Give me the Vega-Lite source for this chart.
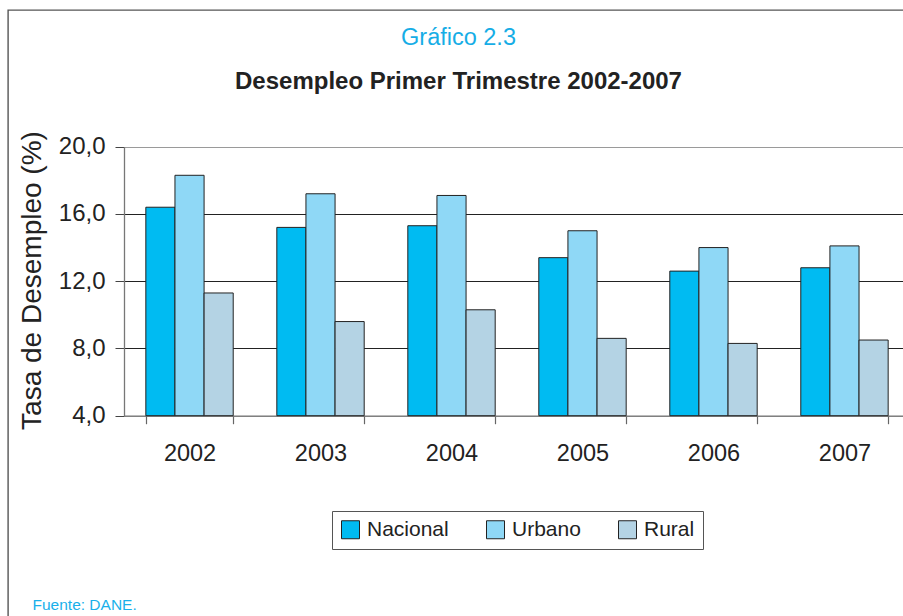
{
  "$schema": "https://vega.github.io/schema/vega-lite/v6.json",
  "autosize": {"type": "none"},
  "padding": {"left": 8, "top": 10, "right": 0, "bottom": 0},
  "width": 895,
  "height": 606,
  "background": "white",
  "config": {
    "view": {"stroke": "#555555", "strokeWidth": 1.4, "strokeDash": [895, 1501, 606, 0], "fill": "white"},
    "font": "Liberation Sans"
  },
  "title": {
    "text": "Gráfico 2.3",
    "subtitle": "Desempleo Primer Trimestre 2002-2007",
    "anchor": "middle",
    "frame": "group",
    "offset": -84,
    "dx": 3,
    "font": "Liberation Sans",
    "fontSize": 23.5,
    "fontWeight": "normal",
    "color": "#16ADE6",
    "subtitleFont": "Liberation Sans",
    "subtitleFontSize": 24,
    "subtitleFontWeight": "bold",
    "subtitleColor": "#222222",
    "subtitlePadding": 21
  },
  "data": {
    "values": [
      {"anio": "2002", "serie": "Nacional", "valor": 16.4},
      {"anio": "2002", "serie": "Urbano", "valor": 18.3},
      {"anio": "2002", "serie": "Rural", "valor": 11.3},
      {"anio": "2003", "serie": "Nacional", "valor": 15.2},
      {"anio": "2003", "serie": "Urbano", "valor": 17.2},
      {"anio": "2003", "serie": "Rural", "valor": 9.6},
      {"anio": "2004", "serie": "Nacional", "valor": 15.3},
      {"anio": "2004", "serie": "Urbano", "valor": 17.1},
      {"anio": "2004", "serie": "Rural", "valor": 10.3},
      {"anio": "2005", "serie": "Nacional", "valor": 13.4},
      {"anio": "2005", "serie": "Urbano", "valor": 15.0},
      {"anio": "2005", "serie": "Rural", "valor": 8.6},
      {"anio": "2006", "serie": "Nacional", "valor": 12.6},
      {"anio": "2006", "serie": "Urbano", "valor": 14.0},
      {"anio": "2006", "serie": "Rural", "valor": 8.3},
      {"anio": "2007", "serie": "Nacional", "valor": 12.8},
      {"anio": "2007", "serie": "Urbano", "valor": 14.1},
      {"anio": "2007", "serie": "Rural", "valor": 8.5}
    ]
  },
  "mark": {"type": "bar", "stroke": "#222222", "strokeWidth": 1},
  "encoding": {
    "x": {
      "field": "anio",
      "type": "nominal",
      "sort": ["2002", "2003", "2004", "2005", "2006", "2007"],
      "scale": {"range": [116, 902], "paddingInner": 0.333, "paddingOuter": 0.1667},
      "axis": {
        "orient": "bottom",
        "offset": -200.3,
        "tickBand": "extent",
        "tickSize": 8,
        "tickColor": "#666666",
        "tickWidth": 1.2,
        "domainColor": "#777777",
        "domainWidth": 1.3,
        "labelAngle": 0,
        "labelFont": "Liberation Sans",
        "labelFontSize": 23.5,
        "labelColor": "#222222",
        "labelPadding": 18,
        "grid": false,
        "title": "Fuente: DANE.",
        "titleFont": "Liberation Sans",
        "titleFontSize": 15.5,
        "titleFontWeight": "normal",
        "titleColor": "#1AB0EA",
        "titleX": 24,
        "titleY": 193.6,
        "titleAlign": "left",
        "titleBaseline": "alphabetic",
        "titleAngle": 0
      }
    },
    "xOffset": {
      "field": "serie",
      "type": "nominal",
      "sort": ["Nacional", "Urbano", "Rural"],
      "scale": {"paddingInner": 0, "paddingOuter": 0}
    },
    "y": {
      "field": "valor",
      "type": "quantitative",
      "scale": {"domain": [4, 20], "range": [405.7, 136.7], "nice": false, "zero": false},
      "axis": {
        "orient": "left",
        "offset": -116,
        "values": [4, 8, 12, 16, 20],
        "labelExpr": "replace(format(datum.value, '.1f'), '.', ',')",
        "labelFont": "Liberation Sans",
        "labelFontSize": 24,
        "labelColor": "#222222",
        "labelPadding": 10,
        "tickSize": 9,
        "tickColor": "#444444",
        "domainColor": "#777777",
        "domainWidth": 1.3,
        "grid": true,
        "gridColor": {"condition": {"test": "datum.value === 20 || datum.value === 4", "value": "#9a9a9a"}, "value": "#222222"},
        "gridWidth": 1.2,
        "title": "Tasa de Desempleo (%)",
        "titleFont": "Liberation Sans",
        "titleFontSize": 28,
        "titleFontWeight": "normal",
        "titleColor": "#222222",
        "titleX": -84,
        "titleY": 270,
        "titleAngle": -90,
        "titleAlign": "center",
        "titleBaseline": "alphabetic"
      }
    },
    "y2": {"datum": 4},
    "color": {
      "field": "serie",
      "type": "nominal",
      "sort": ["Nacional", "Urbano", "Rural"],
      "scale": {"domain": ["Nacional", "Urbano", "Rural"], "range": ["#00BBF2", "#8FD8F6", "#B4D3E4"]},
      "legend": {
        "orient": "none",
        "legendX": 324,
        "legendY": 501,
        "direction": "horizontal",
        "title": null,
        "strokeColor": "#555555",
        "padding": 8,
        "symbolType": "square",
        "symbolSize": 324,
        "symbolStrokeColor": "#222222",
        "symbolStrokeWidth": 1,
        "symbolOpacity": 1,
        "labelFont": "Liberation Sans",
        "labelFontSize": 21,
        "labelColor": "#222222",
        "labelBaseline": "middle",
        "labelOffset": 6,
        "columnPadding": 35
      }
    }
  }
}
